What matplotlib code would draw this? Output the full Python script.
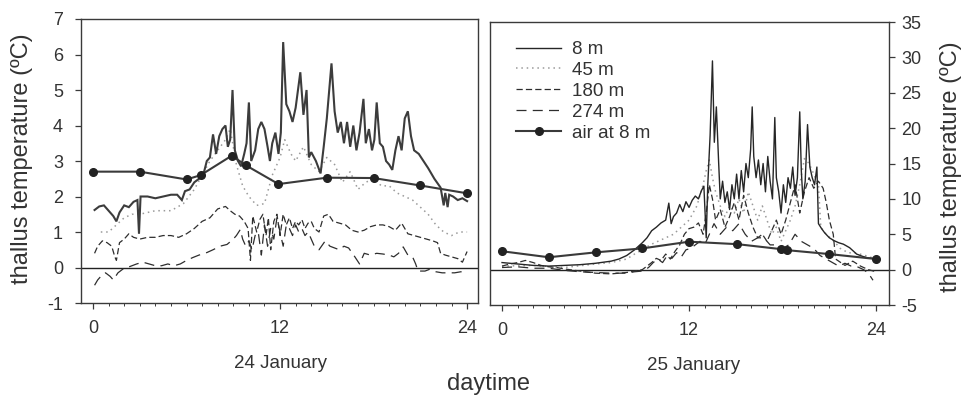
import matplotlib
matplotlib.use("Agg")
import matplotlib.pyplot as plt
from matplotlib.ticker import MultipleLocator, FixedLocator

plt.rcParams["font.family"] = ["Liberation Sans", "DejaVu Sans"]
plt.rcParams["axes.unicode_minus"] = False

# ─── 24 January (left panel) ──────────────────────────────────────────────────
jan24_8m_h = [0.1, 0.4, 0.7, 1.0, 1.3, 1.5, 1.7, 2.0, 2.3, 2.6, 2.85, 2.95, 3.05, 3.5, 4.0, 4.5,
              5.0, 5.4, 5.7, 5.9, 6.2, 6.5, 6.8, 7.1, 7.3, 7.5, 7.7, 7.9, 8.1, 8.3, 8.5, 8.65,
              8.8, 8.95, 9.1, 9.3, 9.5, 9.7, 9.85, 10.0, 10.15, 10.4, 10.6, 10.8, 11.0, 11.2,
              11.35, 11.5, 11.7, 11.9, 12.05, 12.2, 12.4, 12.6, 12.8, 13.0, 13.3, 13.5, 13.7,
              13.85, 14.0, 14.3, 14.6, 14.8, 15.0, 15.3, 15.5, 15.7, 15.9, 16.1, 16.3, 16.5,
              16.7, 16.9, 17.1, 17.35, 17.5, 17.7, 17.9, 18.05, 18.2, 18.4, 18.6, 18.8, 19.0,
              19.2, 19.4, 19.6, 19.8, 20.0, 20.2, 20.4, 20.6, 20.9, 21.2, 21.5, 21.9, 22.3,
              22.5, 22.6, 22.75, 22.85, 23.1, 23.4, 23.7, 24.0]
jan24_8m_t = [1.62, 1.72, 1.75, 1.6, 1.45, 1.3, 1.55, 1.75, 1.7, 1.85, 1.9, 0.95, 2.0, 2.0, 1.95, 2.0,
              2.05, 2.05, 1.9, 2.15, 2.2, 2.4, 2.5, 2.65, 3.0, 3.1, 3.75, 3.2, 3.7, 3.9, 4.0, 3.4,
              3.6, 5.0, 3.3, 3.0, 2.85, 3.2, 3.5, 4.65, 3.0, 3.3, 3.9, 4.1, 3.9, 3.4,
              3.0, 3.5, 3.8, 3.2, 3.8, 6.35, 4.6, 4.4, 4.1, 4.5, 5.5, 4.3, 5.0,
              3.1, 3.25, 3.0, 2.65, 3.4, 4.2, 5.75, 4.4, 3.8, 4.1, 3.5, 4.1, 3.4,
              4.0, 3.3, 3.8, 4.75, 3.5, 3.9, 3.3, 3.6, 4.65, 3.5, 3.4, 3.0, 2.9,
              2.75, 3.3, 3.7, 3.3, 4.2, 4.4, 3.7, 3.3, 3.2, 3.0, 2.8, 2.5, 2.25,
              1.75, 2.1, 1.7, 2.05, 2.0, 1.9, 1.95, 1.87]

jan24_45m_h = [0.5, 1.0, 1.5, 2.0, 2.5, 3.0, 4.0, 5.0, 5.8, 6.5, 7.0, 7.5, 8.0, 8.5, 8.8, 9.2, 9.6,
               10.0, 10.5, 11.0, 11.5, 12.0, 12.3, 12.7, 13.0, 13.5, 14.0, 14.5, 15.0, 15.5, 16.0,
               16.5, 17.0, 17.5, 18.0, 18.5, 19.0, 19.5, 20.0, 20.5, 21.0, 21.5, 22.0, 22.5, 23.0,
               23.5, 24.0]
jan24_45m_t = [1.0, 1.0, 1.2, 1.4, 1.5, 1.5, 1.6, 1.6, 1.8, 2.2, 2.6, 3.0, 3.3, 3.6, 3.9, 2.9, 2.3,
               2.0, 1.75, 1.8, 2.6, 3.1, 3.6, 3.2, 3.0, 3.4, 2.9, 2.7, 3.1, 2.9, 2.4,
               2.7, 2.2, 2.4, 2.5, 2.3, 2.3, 2.1, 2.0, 1.9, 1.7, 1.5, 1.2, 1.0, 0.9,
               1.0, 1.0]

jan24_180m_h = [0.1, 0.3, 0.6, 0.9, 1.2, 1.4, 1.5, 1.7, 2.0, 2.3, 2.6, 3.0, 3.5, 4.0, 4.5, 5.0, 5.5,
                6.0, 6.5, 7.0, 7.5, 8.0, 8.5, 8.8, 9.1, 9.4, 9.7, 9.95, 10.1, 10.25, 10.5, 10.7,
                10.9, 11.1, 11.25, 11.4, 11.6, 11.8, 12.0, 12.2, 12.4, 12.6, 12.8, 13.0, 13.2,
                13.4, 13.6, 13.8, 14.0, 14.2, 14.5, 14.8, 15.1, 15.4, 15.8, 16.2, 16.6, 17.0,
                17.4, 17.8, 18.2, 18.6, 19.0, 19.4, 19.8, 20.2, 20.6, 21.0, 21.4, 21.8, 22.1,
                22.3, 22.6, 23.0, 23.4, 23.7, 24.0]
jan24_180m_t = [0.4, 0.6, 0.75, 0.7, 0.6, 0.3, 0.2, 0.7, 0.8, 0.95, 0.85, 0.8, 0.85, 0.85, 0.9, 0.9, 0.85,
                0.95, 1.1, 1.3, 1.4, 1.65, 1.72, 1.6, 1.5, 1.45, 1.3, 1.1, 0.2, 1.45, 1.0, 1.35,
                1.5, 0.9, 1.4, 0.5, 1.3, 1.5, 0.9, 1.5, 1.2, 1.4, 1.1, 1.3, 1.2,
                1.35, 1.1, 1.25, 1.3, 1.1, 1.0, 1.45, 1.5, 1.3, 1.25, 1.2, 1.05, 1.0,
                1.05, 1.15, 1.2, 1.2, 1.15, 1.05, 1.25, 0.95, 0.9, 0.85, 0.8, 0.75, 0.7,
                0.4, 0.35, 0.3, 0.25, 0.15, 0.45]

jan24_274m_h = [0.1, 0.3, 0.5, 0.8, 1.1, 1.3, 1.6, 1.9, 2.2, 2.5, 2.8, 3.2, 3.6, 4.0, 4.4, 4.8, 5.2,
                5.6, 6.0, 6.4, 6.8, 7.3, 7.7, 8.15, 8.6, 9.0, 9.2, 9.45, 9.6, 9.8, 10.0, 10.2,
                10.4, 10.6, 10.8, 11.0, 11.2, 11.4, 11.6, 11.8, 12.0, 12.2, 12.4, 12.6, 12.8,
                13.0, 13.2, 13.4, 13.6, 13.8, 14.0, 14.2, 14.5, 14.9, 15.2, 15.5, 15.8, 16.1,
                16.4, 16.8, 17.1, 17.4, 17.8, 18.2, 18.6, 19.0, 19.3, 19.6, 19.9, 20.2, 20.5,
                20.7, 20.85, 21.0, 21.3, 21.6, 22.0, 22.4, 22.8, 23.2, 23.6, 24.0]
jan24_274m_t = [-0.5, -0.35, -0.25, -0.15, -0.25, -0.35, -0.15, -0.05, 0.0, 0.05, 0.1, 0.15, 0.1, 0.05,
                0.05, 0.1, 0.05, 0.1, 0.2, 0.28, 0.35, 0.42, 0.5, 0.6, 0.65, 0.8, 0.9, 1.07, 0.8,
                0.6, 0.75, 0.5, 0.9, 1.0, 0.35, 1.2, 0.6, 1.1, 0.8, 1.4, 1.0, 0.6, 1.2, 1.1, 0.9,
                1.2, 1.0, 1.1, 0.9, 1.0, 0.8, 0.6, 0.5, 0.75, 0.6, 0.55, 0.5, 0.6,
                0.55, 0.3, 0.1, 0.4, 0.35, 0.4, 0.38, 0.35, 0.3, 0.4, 0.58, 0.35, 0.3,
                0.1, -0.1, -0.1, -0.1, -0.05, -0.12, -0.15, -0.15, -0.15, -0.12, -0.15]

jan24_air_h = [0, 3, 6, 6.9, 8.9, 9.8, 11.9, 15, 18, 21, 24]
jan24_air_t = [2.7, 2.7, 2.48, 2.6, 3.15, 2.88, 2.35, 2.53, 2.52, 2.31, 2.09]

# ─── 25 January (right panel) ─────────────────────────────────────────────────
jan25_8m_h = [0, 1, 2, 3, 4, 5, 6, 7, 7.5, 8, 8.5, 9, 9.3, 9.6, 9.9, 10.2, 10.5, 10.7, 10.85, 11.0,
              11.2, 11.4, 11.6, 11.8, 12.0, 12.2, 12.4, 12.6, 12.8, 12.95, 13.1, 13.2, 13.35,
              13.5, 13.62, 13.75, 13.9, 14.0, 14.15, 14.3, 14.45, 14.6, 14.75, 14.9, 15.05,
              15.2, 15.35, 15.5, 15.65, 15.8, 15.95, 16.05, 16.15, 16.3, 16.45, 16.6, 16.75,
              16.9, 17.05, 17.2, 17.35, 17.5, 17.6, 17.75, 17.9, 18.05, 18.2, 18.35, 18.5,
              18.65, 18.8, 18.95, 19.1, 19.2, 19.3, 19.45, 19.6, 19.75, 19.9, 20.05, 20.2,
              20.3, 20.5, 20.7, 21.0, 21.3, 21.6, 21.9, 22.3, 22.75, 23.1, 23.4, 23.7, 24.0]
jan25_8m_t = [1.0, 0.8, 0.6, 0.5, 0.6, 0.7, 0.9, 1.2, 1.5, 2.0, 2.8, 3.8, 4.5, 5.5, 6.0, 6.6, 7.0, 9.4,
              6.5, 7.5, 8.0, 9.2, 8.2, 9.6, 8.8, 9.8, 10.4, 10.0, 11.2, 11.8, 4.5, 12.0, 19.0,
              29.5, 18.0, 23.0, 15.0, 10.0, 12.5, 9.5, 11.0, 8.5, 12.0, 10.0, 13.5,
              10.0, 14.0, 11.0, 15.0, 13.0, 17.0, 23.0, 16.0, 13.0, 15.5, 12.0, 15.0,
              11.0, 16.0, 12.5, 10.0, 21.5, 13.0, 11.0, 8.0, 12.0, 9.5, 13.0, 11.5,
              14.5, 10.5, 13.0, 22.3, 14.0, 10.0, 12.5, 20.5, 14.5, 13.0, 12.0, 14.5,
              6.5, 5.8, 5.2, 4.5, 4.1, 3.8, 3.6, 3.1, 2.2, 1.9, 1.7, 1.6, 1.5]

jan25_45m_h = [0, 2, 4, 6, 7, 8, 8.5, 9, 9.5, 10, 10.5, 11, 11.5, 12, 12.5, 12.9, 13.1, 13.3, 13.5,
               13.7, 14.0, 14.3, 14.6, 14.9, 15.2, 15.5, 15.8, 16.1, 16.4, 16.7, 17.0, 17.3,
               17.6, 17.9, 18.2, 18.5, 18.8, 19.1, 19.4, 19.7, 20.0, 20.3, 20.45, 20.8, 21.3,
               21.7, 22.2, 22.8, 23.3, 24.0]
jan25_45m_t = [0.5, 0.6, 0.3, 0.8, 1.0, 1.5, 2.2, 2.8, 3.5, 4.0, 4.5, 5.0, 6.0, 7.0, 9.0, 12.0, 14.0,
               15.5, 13.0, 11.0, 9.0, 7.5, 9.0, 8.0, 10.0, 8.0, 11.0, 9.0, 7.0, 9.0, 7.0, 5.0,
               6.0, 4.0, 5.5, 7.0, 9.0, 12.0, 15.7, 15.0, 13.5, 12.0, 6.0, 5.0, 4.0,
               3.0, 2.4, 2.3, 2.0, 1.5]

jan25_180m_h = [0, 0.5, 1, 1.5, 2, 2.5, 3, 3.5, 4, 5, 6, 7, 8, 8.5, 9, 9.3, 9.6, 9.9, 10.2, 10.5,
                10.8, 11.1, 11.4, 11.7, 12.0, 12.3, 12.6, 12.9, 13.1, 13.3, 13.5, 13.7, 14.0,
                14.3, 14.6, 14.9, 15.2, 15.5, 15.8, 16.1, 16.4, 16.7, 17.0, 17.3, 17.6, 17.9,
                18.2, 18.5, 18.8, 19.1, 19.4, 19.7, 20.0, 20.3, 20.6, 20.8, 21.0, 21.25, 21.4,
                22.0, 22.5, 23.0, 23.5, 24.0]
jan25_180m_t = [0.5, 0.8, 1.0, 1.3, 1.0, 0.6, 0.4, 0.3, 0.1, -0.2, -0.5, -0.6, -0.4, -0.2, 0.0, 0.5,
                1.0, 1.6, 1.3, 2.2, 1.5, 2.6, 3.5, 5.0, 5.8, 6.0, 6.6, 5.0, 8.0, 12.0, 10.0, 7.0,
                8.5, 6.0, 7.5, 9.5, 7.0, 10.5, 8.0, 6.0, 4.5, 5.0, 4.0, 5.5, 7.0, 5.0,
                7.0, 9.5, 12.0, 8.0, 11.0, 13.0, 11.5, 12.5, 11.5, 9.5, 7.0, 5.0, 1.5,
                0.6, 1.2, 0.5, 0.0, -0.3]

jan25_274m_h = [0, 1, 2, 3, 4, 5, 6, 7, 8, 8.5, 9, 9.4, 9.7, 10.0, 10.3, 10.6, 10.9, 11.2, 11.5,
                11.8, 12.1, 12.4, 12.7, 13.0, 13.3, 13.6, 14.0, 14.4, 14.8, 15.2, 15.6, 16.0,
                16.4, 16.8, 17.2, 17.6, 18.0, 18.4, 18.8, 19.2, 19.6, 20.0, 20.4, 20.8, 21.2,
                21.6, 22.0, 22.4, 22.8, 23.2, 23.5, 23.8]
jan25_274m_t = [0.3, 0.4, 0.2, 0.2, -0.1, -0.3, -0.4, -0.5, -0.5, -0.3, -0.2, 0.3, 1.0, 1.5, 1.0,
                2.0, 1.6, 2.4, 1.8, 2.8, 3.0, 3.5, 4.0, 3.5, 5.0, 6.5, 5.0, 6.0, 5.5, 6.5, 5.0,
                4.0, 4.5, 4.5, 3.5, 3.5, 3.0, 3.5, 5.0, 4.0, 3.5, 3.0, 2.0, 1.5, 1.0,
                0.5, 0.9, 0.5, 0.4, 0.0, -0.5, -1.5]

jan25_air_h = [0, 3, 6.05, 9, 12, 15.1, 17.9, 18.3, 21, 24]
jan25_air_t = [2.6, 1.75, 2.45, 3.0, 3.95, 3.6, 2.9, 2.75, 2.2, 1.5]

LABELS = ["8 m", "45 m", "180 m", "274 m", "air at 8 m"]
YLABEL = "thallus temperature (ºC)"

# ─── Styles ───────────────────────────────────────────────────────────────────
DARK = "#2e2e2e"
FRAME = "#3a3a3a"
STYLE_8M = dict(color="#3c3c3c", lw=1.5, solid_joinstyle="miter")
STYLE_45M = dict(color="#9a9a9a", lw=1.1, linestyle=(0, (1, 2.5)))
STYLE_180M = dict(color=DARK, lw=0.9, linestyle=(0, (5, 2.5)))
STYLE_274M = dict(color=DARK, lw=0.9, linestyle=(0, (8, 5)))
STYLE_AIR = dict(color="#3a3a3a", lw=1.5, marker="o", markersize=5.5,
                 markerfacecolor="#222222", markeredgecolor="#222222")


def style_axes(ax, ylim, yticks, side):
    ax.set_ylim(*ylim)
    ax.yaxis.set_major_locator(FixedLocator(yticks))
    ax.xaxis.set_major_locator(FixedLocator([0, 12, 24]))
    ax.xaxis.set_minor_locator(MultipleLocator(1))
    for sp in ax.spines.values():
        sp.set_color(FRAME)
        sp.set_linewidth(1.0)
    ax.tick_params(axis="both", which="major", labelsize=13, length=4, width=0.9,
                   color=FRAME, labelcolor="#333333")
    ax.tick_params(axis="x", which="minor", length=2.5, width=0.7, color=FRAME)
    ax.tick_params(axis="x", which="major", pad=8)
    if side == "right":
        ax.yaxis.tick_right()
        ax.tick_params(axis="y", pad=5)
    else:
        ax.tick_params(axis="y", pad=9)
    ax.axhline(0, color="#222222", lw=1.0, zorder=1)


fig = plt.figure(figsize=(9.69, 3.95), dpi=100)
ax1 = fig.add_axes([0.0836, 0.2329, 0.4097, 0.7190])
ax2 = fig.add_axes([0.5057, 0.2278, 0.4118, 0.7165])

# left panel
ax1.plot(jan24_45m_h, jan24_45m_t, **STYLE_45M)
ax1.plot(jan24_274m_h, jan24_274m_t, **STYLE_274M)
ax1.plot(jan24_180m_h, jan24_180m_t, **STYLE_180M)
ax1.plot(jan24_8m_h, jan24_8m_t, **STYLE_8M)
ax1.plot(jan24_air_h, jan24_air_t, **STYLE_AIR)
ax1.set_xlim(-0.77, 24.7)
style_axes(ax1, (-1, 7), range(-1, 8), "left")

# right panel
h45 = ax2.plot(jan25_45m_h, jan25_45m_t, **STYLE_45M)[0]
h274 = ax2.plot(jan25_274m_h, jan25_274m_t, **STYLE_274M)[0]
h180 = ax2.plot(jan25_180m_h, jan25_180m_t, **STYLE_180M)[0]
h8 = ax2.plot(jan25_8m_h, jan25_8m_t, color="#262626", lw=1.0)[0]
hair = ax2.plot(jan25_air_h, jan25_air_t, **STYLE_AIR)[0]
ax2.set_xlim(-0.77, 24.83)
style_axes(ax2, (-5, 35), range(-5, 36, 5), "right")

leg = ax2.legend([h8, h45, h180, h274, hair], LABELS, loc="upper left",
                 bbox_to_anchor=(516 / 969, 1 - 41 / 395), bbox_transform=fig.transFigure,
                 frameon=False, fontsize=13.5, handlelength=2.4, handletextpad=0.6,
                 labelspacing=0.2, borderpad=0, borderaxespad=0)
for t in leg.get_texts():
    t.set_color("#333333")

# text labels
fig.text(22 / 969, 1 - 159 / 395, YLABEL, rotation=90, ha="center", va="center",
         fontsize=17, color="#333333")
fig.text(951 / 969, 1 - 167 / 395, YLABEL, rotation=90, ha="center", va="center",
         fontsize=17, color="#333333")
fig.text(280 / 969, 1 - 363 / 395, "24 January", ha="center", va="center",
         fontsize=13.5, color="#333333")
fig.text(694 / 969, 1 - 366 / 395, "25 January", ha="center", va="center",
         fontsize=13.5, color="#333333")
fig.text(488 / 969, 1 - 384 / 395, "daytime", ha="center", va="center",
         fontsize=17, color="#333333")

fig.savefig("out.png", dpi=100)
